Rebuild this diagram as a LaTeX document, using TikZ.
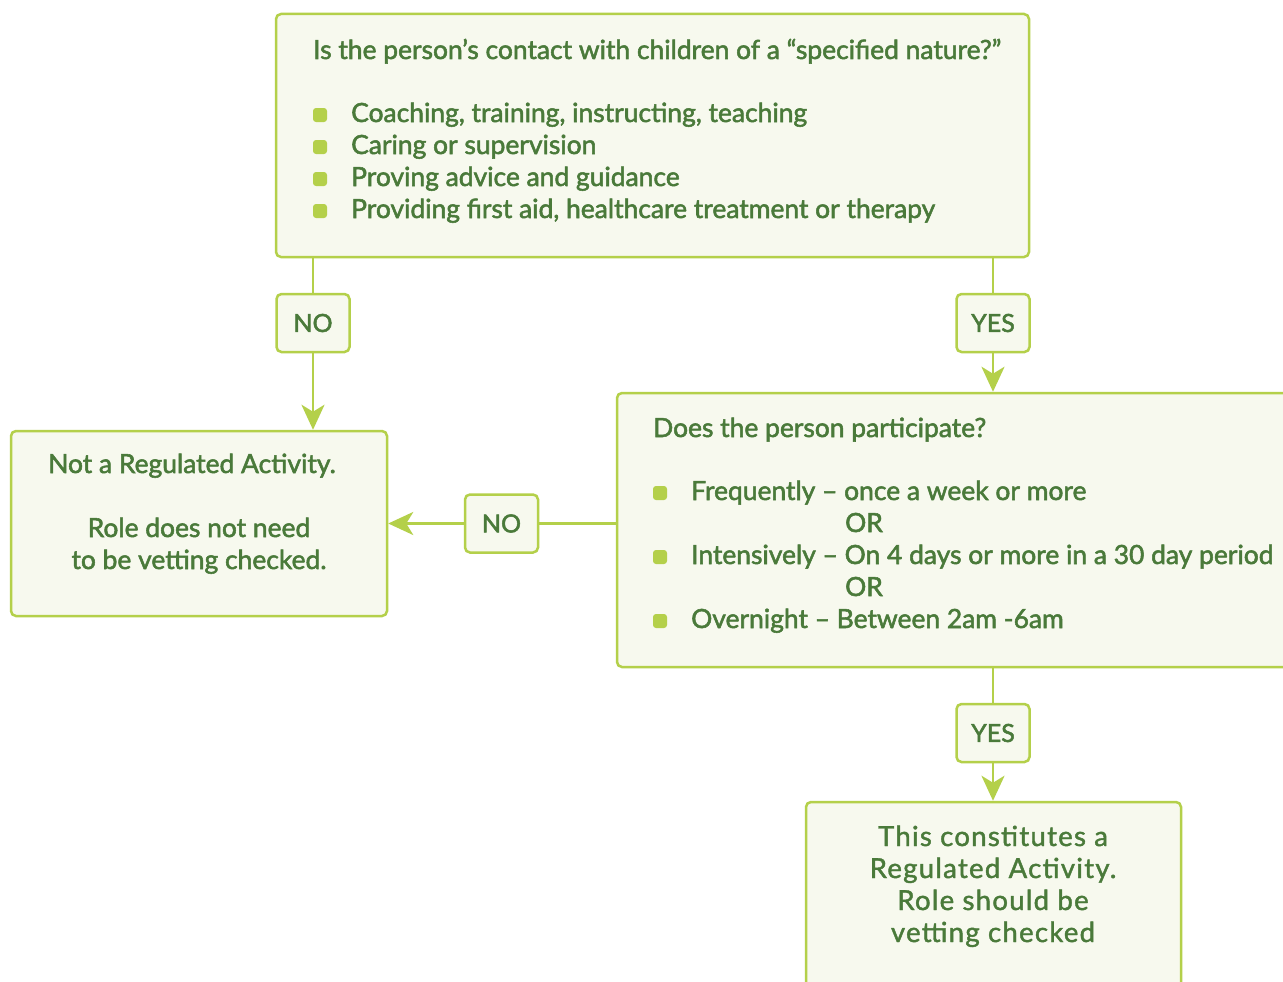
\documentclass[tikz,border=0pt]{standalone}
\usepackage{fontspec}
\setmainfont{Lato}[FakeBold=2]
\newfontfamily\spacedfont{Lato}[FakeBold=1.5,LetterSpace=4.5]
\usetikzlibrary{arrows.meta}
\definecolor{boxline}{HTML}{B4D04A}
\definecolor{boxfill}{HTML}{F7F9EE}
\definecolor{txt}{HTML}{4A7A3A}
\tikzset{
  box/.style={draw=boxline, fill=boxfill, line width=2.5pt, rounded corners=5pt, inner sep=0pt},
  tag/.style={box, minimum width=73pt, minimum height=58pt, font=\fontsize{25}{30}\selectfont, text=txt},
  txtl/.style={anchor=base west, inner sep=0pt, font=\fontsize{26.4}{30}\selectfont, text=txt},
  txtc/.style={anchor=base, inner sep=0pt, font=\fontsize{26.4}{30}\selectfont, text=txt},
  bigc/.style={anchor=base, inner sep=0pt, font=\spacedfont\fontsize{27.6}{30}\selectfont, text=txt},
  bul/.style={fill=boxline, rounded corners=3pt, minimum size=14pt, inner sep=0pt},
  conn/.style={draw=boxline, line width=2.7pt},
  arr/.style={conn, -{Stealth[length=25pt, width=23pt, inset=7pt]}}
}
\begin{document}
\begin{tikzpicture}[x=1pt,y=-1pt]
\useasboundingbox (0,0) rectangle (1283,982);
\fill[white] (0,0) rectangle (1283,982);
% boxes
\node[box, minimum width=753pt, minimum height=243pt] (q1) at (652.5,135.5) {};
\node[box, minimum width=376pt, minimum height=185pt] (notreg) at (199,523.5) {};
\node[box, minimum width=700pt, minimum height=274pt] (q2) at (967,530) {};
\node[box, minimum width=375pt, minimum height=220pt] (reg) at (993.5,912) {};
% tags
\node[tag] (no1) at (313,323) {NO};
\node[tag] (yes1) at (993,323) {YES};
\node[tag] (no2) at (501.5,523.5) {NO};
\node[tag] (yes2) at (993,733) {YES};
% connectors
\draw[conn] (no1 |- q1.south) -- (no1.north);
\draw[arr] (no1.south) -- (no1 |- notreg.north);
\draw[conn] (yes1 |- q1.south) -- (yes1.north);
\draw[arr] (yes1.south) -- (yes1 |- q2.north);
\draw[conn] (no2 -| q2.west) -- (no2.east);
\draw[arr] (no2.west) -- (no2 -| notreg.east);
\draw[conn] (yes2 |- q2.south) -- (yes2.north);
\draw[arr] (yes2.south) -- (yes2 |- reg.north);
% top box text
\node[txtl] (t1) at (313,59) {Is the person’s contact with children of a “specified nature?”};
\node[bul] (b1) at (320,115) {};
\node[txtl] (t2) at (351,122) {Coaching, training, instructing, teaching};
\node[bul] (b2) at (320,147) {};
\node[txtl] (t3) at (351,154) {Caring or supervision};
\node[bul] (b3) at (320,179) {};
\node[txtl] (t4) at (351,186) {Proving advice and guidance};
\node[bul] (b4) at (320,211) {};
\node[txtl] (t5) at (351,218) {Providing first aid, healthcare treatment or therapy};
% left box text
\node[txtc] (l1) at (192,473) {Not a Regulated Activity.};
\node[txtc] (l2) at (199,537) {Role does not need};
\node[txtc] (l3) at (199,569) {to be vetting checked.};
% right box text
\node[txtl] (r1) at (653,437) {Does the person participate?};
\node[bul] (rb1) at (660,493) {};
\node[txtl] (r2) at (691,500) {Frequently – once a week or more};
\node[txtc] (r3) at (864,532) {OR};
\node[bul] (rb2) at (660,557) {};
\node[txtl] (r4) at (691,564) {Intensively – On 4 days or more in a 30 day period};
\node[txtc] (r5) at (864,596) {OR};
\node[bul] (rb3) at (660,621) {};
\node[txtl] (r6) at (691,628) {Overnight – Between 2am -6am};
% bottom box text
\node[bigc] (g1) at (993,846) {This constitutes a};
\node[bigc] (g2) at (993,878) {Regulated Activity.};
\node[bigc] (g3) at (993,910) {Role should be};
\node[bigc] (g4) at (993,942) {vetting checked};
\end{tikzpicture}
\end{document}
